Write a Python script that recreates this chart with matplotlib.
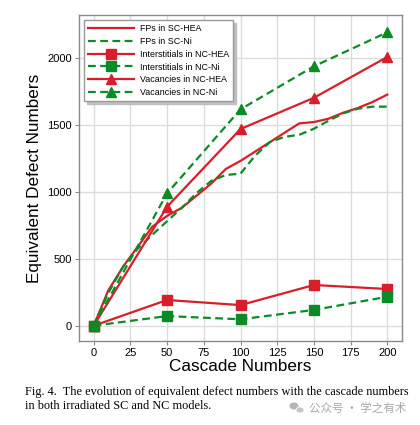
import matplotlib
matplotlib.use("Agg")
import matplotlib.pyplot as plt
from matplotlib.patches import Ellipse

# ---- data ----
fp_x = [0, 10, 20, 30, 40, 50, 60, 70, 80, 90, 100, 110, 120, 130, 140, 150, 160, 170, 180, 190, 200]
fp_sc_hea = [0, 265, 440, 590, 740, 820, 880, 970, 1060, 1170, 1230, 1300, 1370, 1440, 1510, 1520, 1545, 1590, 1625, 1670, 1725]
fp_sc_ni = [0, 245, 440, 575, 680, 780, 880, 990, 1080, 1125, 1135, 1270, 1370, 1410, 1425, 1470, 1530, 1585, 1620, 1635, 1635]

nc_x = [0, 50, 100, 150, 200]
int_nc_hea = [0, 192, 154, 304, 274]
int_nc_ni = [0, 72, 48, 118, 216]
vac_nc_hea = [0, 888, 1468, 1701, 2006]
vac_nc_ni = [0, 988, 1615, 1936, 2190]

xticks = [0, 25, 50, 75, 100, 125, 150, 175, 200]
yticks = [0, 500, 1000, 1500, 2000]

caption1 = "Fig. 4.  The evolution of equivalent defect numbers with the cascade numbers"
caption2 = "in both irradiated SC and NC models."
watermark = "公众号 · 学之有术"

RED = "#d81e2a"
GREEN = "#0b8b25"

plt.rcParams['font.family'] = ['Liberation Sans', 'DejaVu Sans']

fig = plt.figure(figsize=(4.2, 4.25), dpi=100)
ax = fig.add_axes([79/420, 1-341/425, (402-79)/420, (341-15)/425])

lw = 1.6
dash = (0, (3.5, 2))
ax.plot(fp_x, fp_sc_hea, color=RED, lw=lw, label="FPs in SC-HEA")
ax.plot(fp_x, fp_sc_ni, color=GREEN, lw=lw, ls=dash, label="FPs in SC-Ni")
ax.plot(nc_x, int_nc_hea, color=RED, lw=lw, marker='s', ms=6.5, label="Interstitials in NC-HEA")
ax.plot(nc_x, int_nc_ni, color=GREEN, lw=lw, ls=dash, marker='s', ms=6.5, label="Interstitials in NC-Ni")
ax.plot(nc_x, vac_nc_hea, color=RED, lw=lw, marker='^', ms=7.5, label="Vacancies in NC-HEA")
ax.plot(nc_x, vac_nc_ni, color=GREEN, lw=lw, ls=dash, marker='^', ms=7.5, label="Vacancies in NC-Ni")

ax.set_xticks(xticks)
ax.set_yticks(yticks)
ax.set_xlim(-10, 210)
ax.set_ylim(-114, 2319)
ax.grid(True, color="#dcdcdc", lw=1.0)
ax.set_axisbelow(True)
for s in ax.spines.values():
    s.set_color("#8a8a8a")
    s.set_linewidth(1.0)
ax.tick_params(axis='both', labelsize=8, color="#8a8a8a", length=3, width=0.8, pad=2)
ax.set_xlabel("Cascade Numbers", fontsize=12.3, labelpad=1)
ax.set_ylabel("Equivalent Defect Numbers", fontsize=12.3, labelpad=4)

leg = ax.legend(loc='upper left', fontsize=6.4, handlelength=5.1, handletextpad=0.7,
                borderaxespad=0.6, fancybox=False, edgecolor="#999999", framealpha=1,
                labelspacing=0.42, borderpad=0.45,
                shadow={'color': '0.75', 'alpha': 1})

fig.text(25/420, 1-392/425, caption1, fontsize=8.8, family='Liberation Serif', va='center')
fig.text(25/420, 1-406/425, caption2, fontsize=8.8, family='Liberation Serif', va='center')
fig.text(406/420, 1-408/425, watermark, fontsize=8.3, family=['Noto Sans CJK SC', 'DejaVu Sans'],
         color="#a8a8a8", ha='right', va='center')
# small wechat-like icon next to watermark
fig.patches.append(Ellipse((294/420, 1-406/425), 9/420, 7/425, transform=fig.transFigure,
                           facecolor="#b5b5b5", edgecolor='none'))
fig.patches.append(Ellipse((300/420, 1-410/425), 8/420, 6/425, transform=fig.transFigure,
                           facecolor="#c5c5c5", edgecolor='white', lw=0.6))

fig.savefig("out.png", dpi=100)
